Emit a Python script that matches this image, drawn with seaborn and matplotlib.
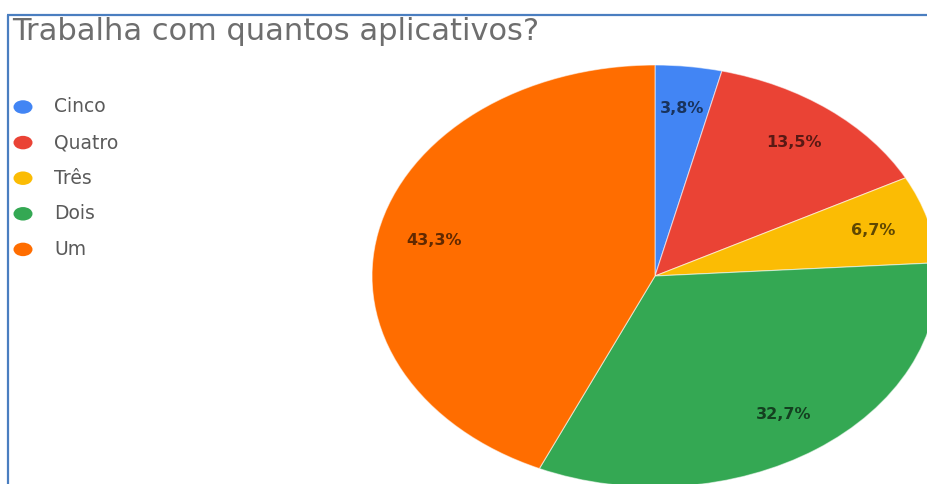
import matplotlib
matplotlib.use("Agg")
import matplotlib.pyplot as plt
from matplotlib.patches import Ellipse
import seaborn as sns

# Survey answers: how many delivery apps each respondent works with
categories = ["Cinco", "Quatro", "Três", "Dois", "Um"]
shares = [3.8, 13.5, 6.7, 32.7, 43.3]
slice_colors = ["#4285F4", "#EA4335", "#FBBC04", "#34A853", "#FF6D00"]
title = "Trabalha com quantos aplicativos?"

sns.set_theme(style="white")
plt.rcParams["font.family"] = ["DejaVu Sans"]

W, H = 927, 484
fig = plt.figure(figsize=(W / 100, H / 100), dpi=100)
fig.patch.set_facecolor("white")

palette = sns.color_palette(slice_colors)


def darker(c, f=0.38):
    return tuple(v * f for v in c)


# Pie axes: stretched horizontally, partly running off the right and bottom edges
cx, cy, rx, ry = 655, 276, 283, 211
ax = fig.add_axes([(cx - rx) / W, (H - (cy + ry)) / H, 2 * rx / W, 2 * ry / H])


def pct_label(p):
    return f"{p:.1f}".replace(".", ",") + "%"


wedges, texts, autotexts = ax.pie(
    shares,
    colors=palette,
    startangle=90,
    counterclock=False,
    autopct=pct_label,
    pctdistance=0.8,
    wedgeprops=dict(edgecolor=(1, 1, 1, 0.55), linewidth=0.8),
    textprops=dict(fontsize=11.5, fontweight="bold"),
)
for t, c in zip(autotexts, palette):
    t.set_color(darker(c))
ax.set_xlim(-1, 1)
ax.set_ylim(-1, 1)
ax.set_aspect("auto")
ax.axis("off")

# Overlay in pixel coordinates for the frame, title and legend
ov = fig.add_axes([0, 0, 1, 1], zorder=-1)
ov.set_xlim(0, W)
ov.set_ylim(H, 0)
ov.axis("off")

frame_color = "#4A7EC0"
ov.plot([7, W], [14.5, 14.5], color=frame_color, lw=1.6, solid_capstyle="butt")
ov.plot([8.5, 8.5], [14.5, H], color=frame_color, lw=1.6, solid_capstyle="butt")

ov.text(12, 40, title, fontsize=22, color="#6e6e6e", va="baseline", ha="left")

legend_top, legend_step = 107, 35.6
for i, (name, col) in enumerate(zip(categories, palette)):
    y = legend_top + i * legend_step
    ov.add_patch(Ellipse((23, y), 19, 13.5, facecolor=col, edgecolor="none"))
    ov.text(54, y, name, fontsize=13.5, color="#5a5a5a", va="center", ha="left")

fig.savefig("out.png", dpi=100, facecolor="white")
